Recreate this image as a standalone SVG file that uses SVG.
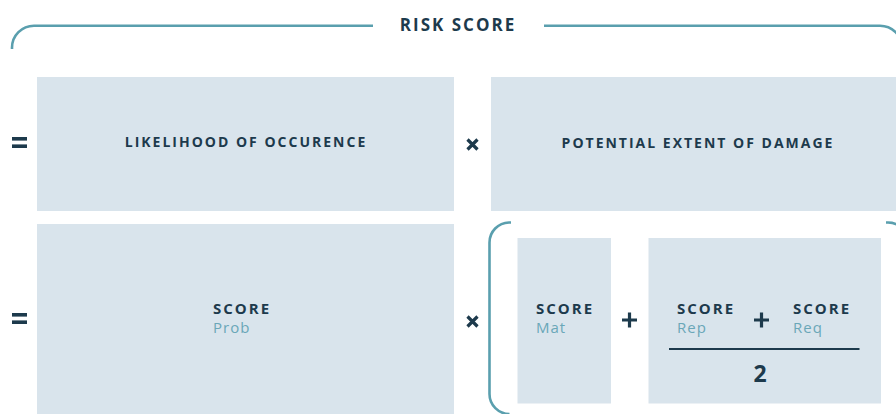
<svg xmlns="http://www.w3.org/2000/svg" width="896" height="414" viewBox="0 0 896 414">
<style>
.box{fill:#d9e4ec}
.br{fill:none;stroke:#5a9fae;stroke-width:2.6;stroke-linecap:butt}
.t{font-family:"Open Sans","Noto Sans",sans-serif;font-weight:700;fill:#1d3a4c;letter-spacing:2px}
.lbl{font-size:14px;text-anchor:middle}
.sc{font-size:15px}
.sub{font-family:"Open Sans","Noto Sans",sans-serif;font-size:15px;fill:#6aa7b8;letter-spacing:1px}
.op{fill:#1d3a4c}
.opl{stroke:#1d3a4c;stroke-width:3.2;fill:none}
</style>
<rect width="896" height="414" fill="#ffffff"/>
<g id="connectors">
<path class="br" d="M373,25.7 H34 A22,22 0 0 0 12,47.7 V49"/>
<path class="br" d="M544,25.7 H880 A22,22 0 0 1 902,47.7"/>
<path class="br" d="M511,222.5 H509 A20,20 0 0 0 489.5,242.5 V394 A20,20 0 0 0 509.5,414"/>
<path class="br" d="M886,222.5 H888 A20,20 0 0 1 908,242.5"/>
</g>
<g id="title">
<text class="t" x="458" y="30.5" font-size="17" text-anchor="middle">RISK SCORE</text>
</g>
<g id="eq1">
<rect class="op" x="12" y="137" width="15" height="3.6"/>
<rect class="op" x="12" y="144.4" width="15" height="3.6"/>
</g>
<g id="likelihood">
<rect class="box" x="37" y="77" width="417" height="134"/>
<text class="t lbl" x="246" y="146.5">LIKELIHOOD OF OCCURENCE</text>
</g>
<g id="times1">
<path class="opl" d="M467.5,139.5 L477.5,149.5 M477.5,139.5 L467.5,149.5"/>
</g>
<g id="damage">
<rect class="box" x="491" y="77" width="405" height="134"/>
<text class="t lbl" x="698" y="148">POTENTIAL EXTENT OF DAMAGE</text>
</g>
<g id="eq2">
<rect class="op" x="12" y="313" width="15" height="3.6"/>
<rect class="op" x="12" y="320.4" width="15" height="3.6"/>
</g>
<g id="prob">
<rect class="box" x="37" y="224" width="417" height="190"/>
<text class="t sc" x="213" y="314">SCORE</text>
<text class="sub" x="213" y="333">Prob</text>
</g>
<g id="times2">
<path class="opl" d="M467.5,316.5 L477.5,326.5 M477.5,316.5 L467.5,326.5"/>
</g>
<g id="mat">
<rect class="box" x="517.5" y="238" width="93.5" height="165.5"/>
<text class="t sc" x="536" y="314">SCORE</text>
<text class="sub" x="536" y="333">Mat</text>
</g>
<g id="plus1">
<path class="opl" d="M622,320 H637 M629.5,312.5 V327.5"/>
</g>
<g id="fraction">
<rect class="box" x="648.5" y="238" width="232.5" height="165.5"/>
<text class="t sc" x="677" y="314">SCORE</text>
<text class="sub" x="677" y="333">Rep</text>
<path class="opl" d="M754,320 H769 M761.5,312.5 V327.5"/>
<text class="t sc" x="793" y="314">SCORE</text>
<text class="sub" x="793" y="333">Req</text>
<line x1="669" y1="349" x2="859.5" y2="349" stroke="#1d3a4c" stroke-width="2.2"/>
<text class="t" x="761" y="382" font-size="23" text-anchor="middle" letter-spacing="0">2</text>
</g>
</svg>
